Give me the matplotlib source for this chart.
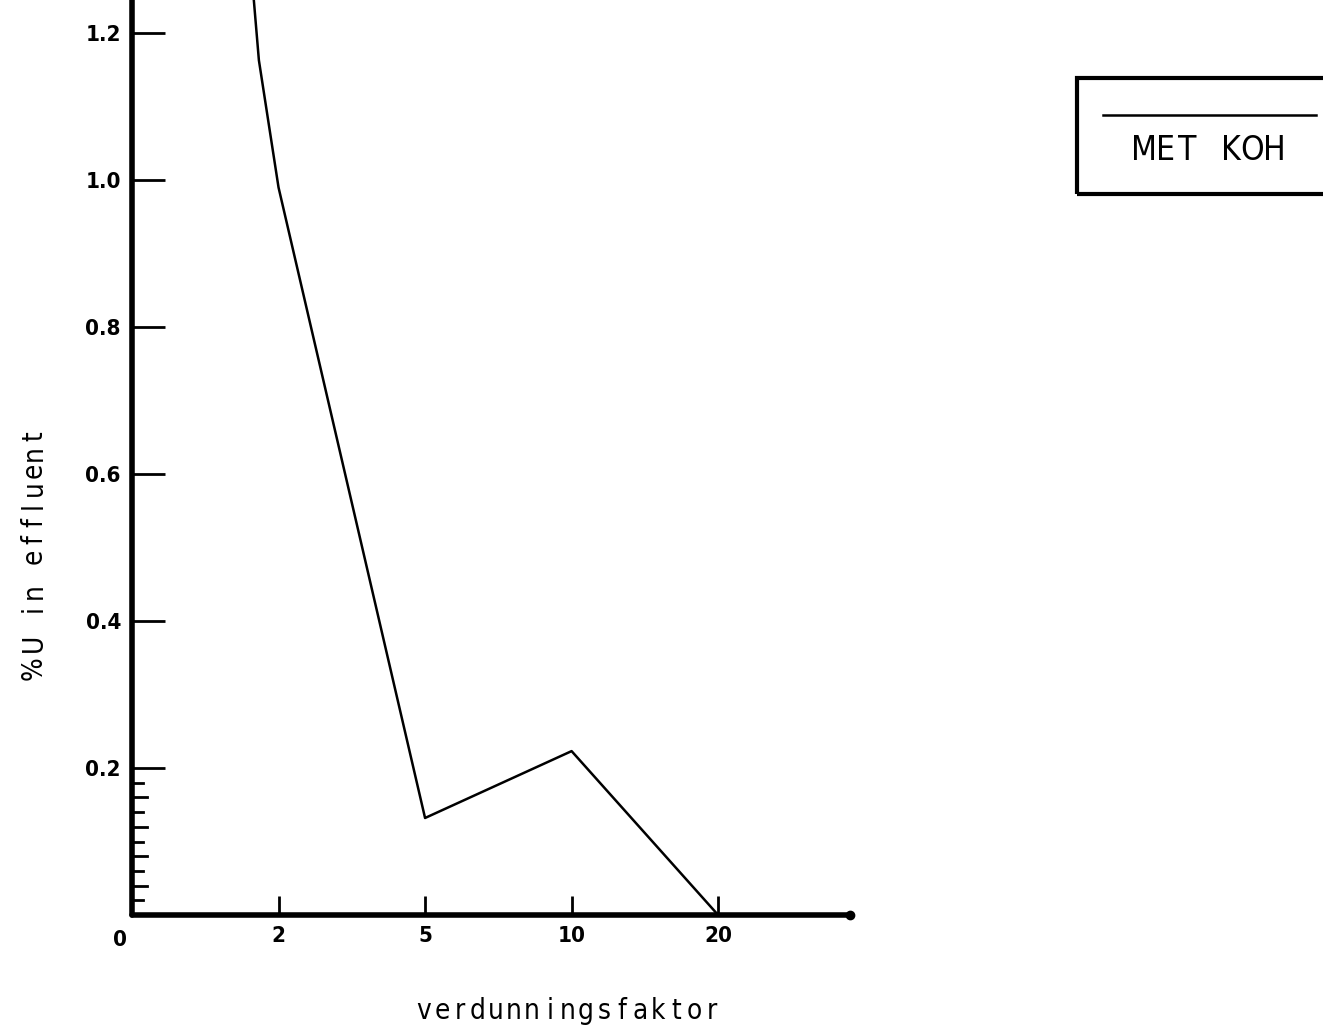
import matplotlib.pyplot as plt
from matplotlib.lines import Line2D
from matplotlib.patches import Rectangle

# dilution factor categories on the x axis
factors = ['0', '2', '5', '10', '20']
factor_pos = [0, 1, 2, 3, 4]

# measured curve (positions in category units)
curve_x = [0.825, 0.866, 1.0, 2.0, 3.0, 4.0]
curve_y = [1.26, 1.163, 0.99, 0.132, 0.223, 0.0]

y_major = [0.2, 0.4, 0.6, 0.8, 1.0, 1.2]
y_major_labels = ['0.2', '0.4', '0.6', '0.8', '1.0', '1.2']
y_minor_long = [0.04, 0.08, 0.12, 0.16]
y_minor_short = [0.02, 0.06, 0.10, 0.14, 0.18]

x_title = 'verdunningsfaktor'
y_title = '%U in effluent'
legend_label = 'MET KOH'

W, H = 1323, 1031
TICK_FONT = dict(fontsize=16, fontweight='bold', fontstretch='condensed')
TITLE_FONT = dict(fontsize=20, fontstretch='condensed')


def lettered(fig, s, cx, cy, step, vertical=False, **kw):
    # stencil-style lettering: every character gets the same width
    n = len(s)
    for i, ch in enumerate(s):
        off = (i - (n - 1) / 2) * step
        if vertical:
            x, y = cx, cy - off
        else:
            x, y = cx + off, cy
        fig.text(x / W, 1 - y / H, ch, ha='center', va='baseline',
                 rotation=90 if vertical else 0, rotation_mode='anchor',
                 **kw)


def main():
    fig = plt.figure(figsize=(W / 100, H / 100), dpi=100)
    ax = fig.add_axes([132 / W, 1 - 915 / H, 718 / W, 915 / H])

    ax.plot(curve_x, curve_y, color='black', lw=1.8, clip_on=True)

    ax.set_xlim(0, 4.9)
    ax.set_ylim(0, 1.245)

    for side in ['top', 'right']:
        ax.spines[side].set_visible(False)
    for side in ['left', 'bottom']:
        ax.spines[side].set_linewidth(4)
        ax.spines[side].set_capstyle('round')

    ax.set_xticks(factor_pos[1:])
    ax.set_xticklabels(factors[1:], **TICK_FONT)
    ax.tick_params(axis='x', direction='in', length=14, width=2, pad=8)
    ax.text(-0.08, -0.02, factors[0], transform=ax.transData,
            ha='center', va='top', **TICK_FONT)

    ax.set_yticks(y_major)
    ax.set_yticklabels(y_major_labels, **TICK_FONT)
    ax.tick_params(axis='y', direction='in', length=24, width=2, pad=8)

    # fine scale between 0 and 0.2
    for v in y_minor_long:
        ax.plot([0, 0.1], [v, v], color='black', lw=2, clip_on=False)
    for v in y_minor_short:
        ax.plot([0, 0.075], [v, v], color='black', lw=2, clip_on=False)

    # round end of the x axis
    ax.plot([4.9], [0], 'o', color='black', ms=6, clip_on=False)

    lettered(fig, x_title, 568, 1019, 18.0, **TITLE_FONT)
    # the wide percent sign gets a little more room than the rest
    lettered(fig, y_title[0], 42, 668, 0, vertical=True, **TITLE_FONT)
    lettered(fig, y_title[1:], 42, 539.5, 17.25, vertical=True,
             **TITLE_FONT)

    # boxed key in the upper right
    box = Rectangle((1077 / W, 1 - 194 / H), 0.25, 116 / H,
                    transform=fig.transFigure, fill=False, lw=3,
                    edgecolor='black', clip_on=False)
    fig.add_artist(box)
    fig.add_artist(Line2D([1103 / W, 1316 / W], [1 - 115 / H, 1 - 115 / H],
                          transform=fig.transFigure, color='black', lw=1.8))
    lettered(fig, legend_label, 1209, 160, 21.7, fontsize=24,
             fontstretch='condensed')

    fig.savefig('out.png', dpi=100)


if __name__ == "__main__":
    main()
